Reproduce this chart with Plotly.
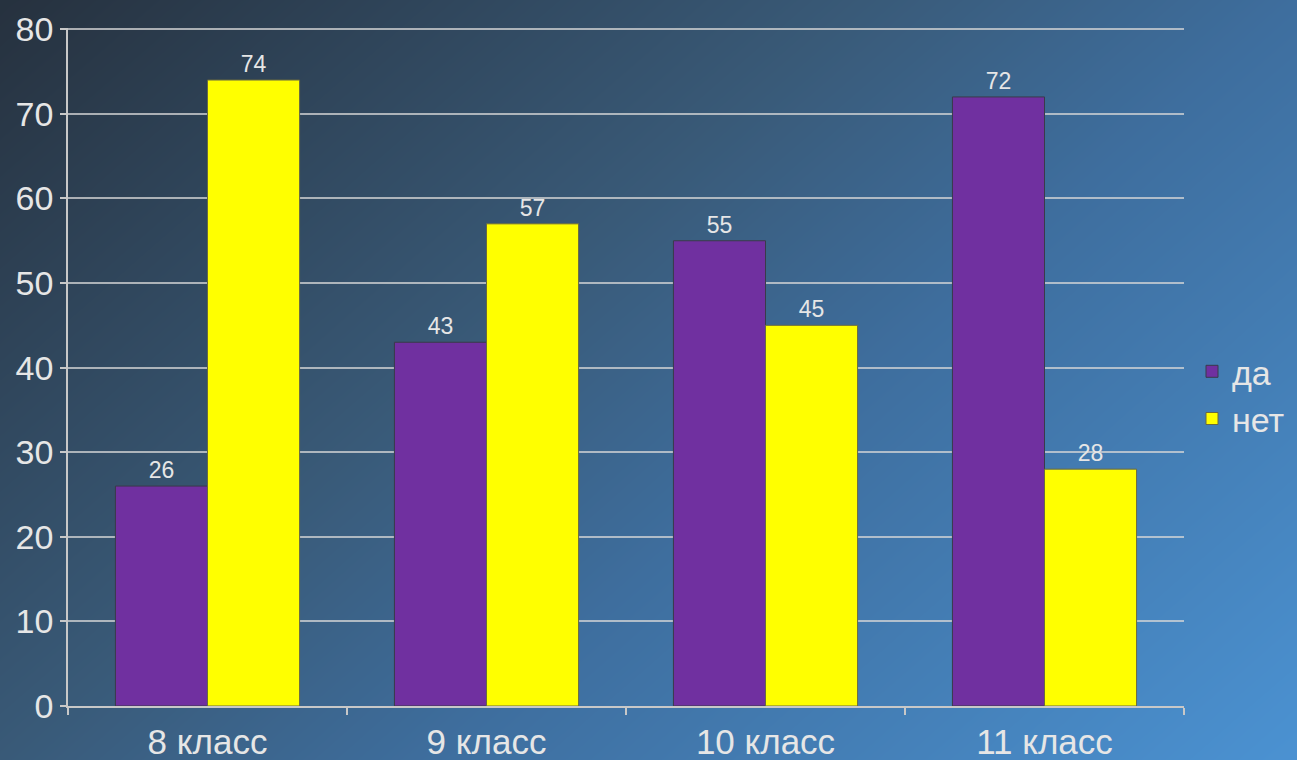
import numpy as np
import plotly.graph_objects as go

categories = ["8 класс", "9 класс", "10 класс", "11 класс"]
da_values = [26, 43, 55, 72]
net_values = [74, 57, 45, 28]
series_names = ["да", "нет"]
y_ticks = [0, 10, 20, 30, 40, 50, 60, 70, 80]

FONT = "Liberation Sans, Arial, sans-serif"
TXT = "#e6e6e6"

# background gradient (diagonal), extends beyond the visible range
gx = np.linspace(-0.1, 1.1, 31)
gy = np.linspace(-0.1, 1.1, 31)
U, Y = np.meshgrid(gx, gy)
V = 1 - Y
Z = np.clip(0.6 * U + 0.4 * V, 0, 1)

fig = go.Figure()
fig.add_trace(go.Heatmap(
    x=gx, y=gy, z=Z, zsmooth="best", showscale=False, hoverinfo="skip",
    colorscale=[[0, "#26313e"], [0.4, "#395a78"], [0.6, "#3e6e9e"], [1.0, "#4b92d2"]],
    zmin=0, zmax=1, xaxis="x", yaxis="y", showlegend=False,
))

fig.add_trace(go.Bar(
    x=categories, y=da_values, name=series_names[0],
    marker=dict(color="#7030a0", line=dict(color="#3a3a4a", width=1)),
    text=da_values, textposition="outside", cliponaxis=False,
    textfont=dict(family=FONT, size=23, color=TXT),
    xaxis="x2", yaxis="y2",
))
fig.add_trace(go.Bar(
    x=categories, y=net_values, name=series_names[1],
    marker=dict(color="#ffff00", line=dict(color="#6a6a40", width=1)),
    text=net_values, textposition="outside", cliponaxis=False,
    textfont=dict(family=FONT, size=23, color=TXT),
    xaxis="x2", yaxis="y2",
))

fig.update_layout(
    width=1297, height=760,
    margin=dict(l=0, r=0, t=0, b=0, autoexpand=False),
    paper_bgcolor="#3a6080",
    plot_bgcolor="rgba(0,0,0,0)",
    barmode="group", bargap=0.34, bargroupgap=0,
    font=dict(family=FONT, color=TXT),
    xaxis=dict(domain=[0, 1], range=[0, 1], visible=False, fixedrange=True),
    yaxis=dict(domain=[0, 1], range=[0, 1], visible=False, fixedrange=True),
    xaxis2=dict(
        domain=[68 / 1297, 1184 / 1297], anchor="y2",
        showline=True, linecolor="#c8c8c8", linewidth=1.5,
        ticks="outside", tickson="boundaries", ticklen=7, tickcolor="#c8c8c8", tickwidth=1.5,
        tickfont=dict(family=FONT, size=35, color=TXT),
        ticklabelstandoff=4,
        showgrid=False, automargin=False,
    ),
    yaxis2=dict(
        domain=[(760 - 706) / 760, (760 - 28) / 760], anchor="x2",
        range=[0, 80.15], tickvals=y_ticks,
        showline=True, linecolor="#c8c8c8", linewidth=1.5,
        ticks="outside", ticklen=6, tickcolor="#c8c8c8", tickwidth=1.5,
        tickfont=dict(family=FONT, size=34, color=TXT),
        showgrid=True, gridcolor="rgba(215,215,215,0.75)", gridwidth=1.5,
        zeroline=False, automargin=False,
    ),
    legend=dict(
        x=1192 / 1297, y=0.48, xanchor="left", yanchor="middle",
        font=dict(family=FONT, size=34, color=TXT),
        bgcolor="rgba(0,0,0,0)", itemwidth=30,
        tracegroupgap=0,
    ),
)

fig.write_html(
    "out.html",
    config={"displayModeBar": False},
    post_script="document.body.style.margin='0';document.body.style.overflow='hidden';",
)
